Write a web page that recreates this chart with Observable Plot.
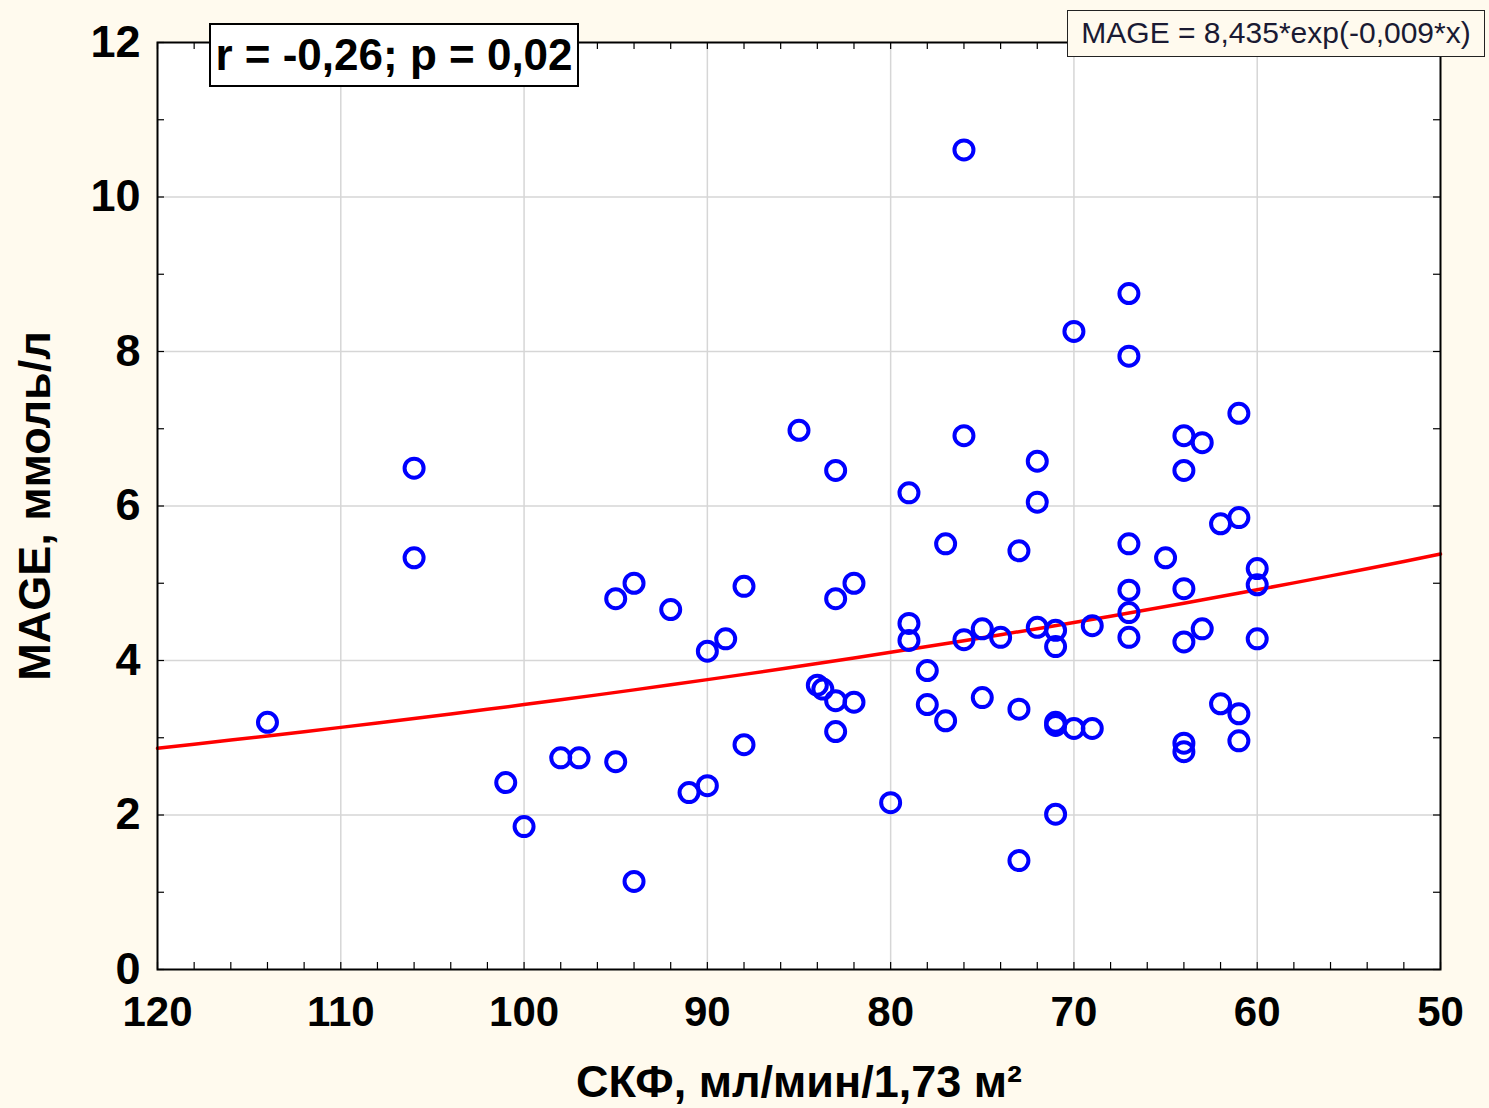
<!DOCTYPE html>
<html>
<head>
<meta charset="utf-8">
<script src="https://cdn.jsdelivr.net/npm/d3@7"></script>
<script src="https://cdn.jsdelivr.net/npm/@observablehq/plot@0.6"></script>
<style>
  html, body { margin: 0; padding: 0; background: #fffaee; }
  #wrap { position: relative; width: 1489px; height: 1108px; font-family: "Liberation Sans", Arial, sans-serif; }
  #stats { position: absolute; left: 209px; top: 23px; width: 370px; height: 64px; box-sizing: border-box;
           border: 2px solid #000; background: #fff; font-weight: bold; font-size: 44px; line-height: 60px;
           text-align: center; color: #000; white-space: nowrap; }
  #formula { position: absolute; left: 1067px; top: 10px; width: 418px; height: 47px; box-sizing: border-box;
             border: 1.5px solid #222; background: #fffaee; font-size: 30px; line-height: 44px;
             text-align: center; color: #1a1a33; white-space: nowrap; }
</style>
</head>
<body>
<div id="wrap"></div>
<script>
// ---- data ----
const gfr = [114,106,106,101,100,98,97,95,95,94,94,92,91,90,90,89,88,88,85,84,83.7,83,82,83,83,83,82,80,79,79,79,78,78,77,77,76,76,76,75,75,74,73,73,73,72,72,72,71,71,71,71,71,70,70,69,69,67,67,67,67,67,67,65,64,64,64,64,64,64,63,63,62,62,61,61,61,61,60,60,60];
const mage = [3.20,6.49,5.33,2.42,1.85,2.74,2.74,2.69,4.80,5.00,1.14,4.66,2.29,4.12,2.38,4.28,4.96,2.91,6.98,3.68,3.63,3.48,3.46,3.08,6.46,4.80,5.00,2.16,6.17,4.48,4.26,3.87,3.43,5.51,3.22,10.61,6.91,4.27,4.41,3.52,4.30,5.42,3.37,1.41,6.58,6.05,4.43,4.39,4.18,3.20,3.16,2.01,8.26,3.12,3.12,4.45,8.75,7.94,5.51,4.91,4.62,4.30,5.33,6.91,6.46,4.93,4.24,2.93,2.82,6.82,4.41,5.77,3.44,7.20,5.85,3.31,2.96,5.19,4.98,4.28];
const xTicks = [120,110,100,90,80,70,60,50];
const yTicks = [0,2,4,6,8,10,12];
const xMinor = d3.range(50, 121, 2);
const yMinor = d3.range(0, 13, 1);
const fitA = 8.435, fitB = -0.009;          // MAGE = 8,435*exp(-0,009*x)
const fitX = d3.range(50, 121, 2);
const statsText = "r = -0,26; p = 0,02";
const formulaText = "MAGE = 8,435*exp(-0,009*x)";
const xLabel = "СКФ, мл/мин/1,73 м²";
const yLabel = "MAGE, ммоль/л";

const points = gfr.map((x, i) => ({x, y: mage[i]}));
const fit = fitX.map(x => ({x, y: fitA * Math.exp(fitB * x)}));

const W = 1489, H = 1108, mL = 157, mR = 49, mT = 42, mB = 139;
const plotW = W - mL - mR, plotH = H - mT - mB;
const font = "Liberation Sans, Arial, sans-serif";

const chart = Plot.plot({
  width: W, height: H,
  marginLeft: mL, marginRight: mR, marginTop: mT, marginBottom: mB,
  style: {background: "transparent", fontFamily: font, color: "#000"},
  x: {domain: [120, 50], ticks: xTicks, label: null},
  y: {domain: [0, 12], ticks: yTicks, label: null},
  marks: [
    Plot.frame({fill: "#ffffff", stroke: "none"}),
    Plot.gridX(xTicks.slice(1, -1), {stroke: "#d6d6d6", strokeOpacity: 1, strokeWidth: 1.5}),
    Plot.gridY(yTicks.slice(1, -1), {stroke: "#d6d6d6", strokeOpacity: 1, strokeWidth: 1.5}),
    // inward ticks
    Plot.tickX(xMinor, {x: d => d, insetTop: plotH - 7, stroke: "#000", strokeWidth: 1.2}),
    Plot.tickX(xMinor, {x: d => d, insetBottom: plotH - 7, stroke: "#000", strokeWidth: 1.2}),
    Plot.tickY(yMinor, {y: d => d, insetRight: plotW - 7, stroke: "#000", strokeWidth: 1.2}),
    Plot.tickY(yMinor, {y: d => d, insetLeft: plotW - 7, stroke: "#000", strokeWidth: 1.2}),
    Plot.line(fit, {x: "x", y: "y", stroke: "#ff0000", strokeWidth: 3.5, curve: "natural"}),
    Plot.dot(points, {x: "x", y: "y", r: 9.5, stroke: "#0000ff", strokeWidth: 4, fill: "none"}),
    Plot.frame({stroke: "#000", strokeWidth: 2}),
    Plot.axisX(xTicks, {anchor: "bottom", tickSize: 0, tickPadding: 27, fontSize: 42, fontWeight: "bold", fontFamily: font, label: null, tickFormat: d => String(d)}),
    Plot.axisY(yTicks, {anchor: "left", tickSize: 0, tickPadding: 17, fontSize: 45, fontWeight: "bold", fontFamily: font, label: null, tickFormat: d => String(d)}),
    Plot.text([xLabel], {frameAnchor: "bottom", lineAnchor: "middle", dy: 113, fontSize: 45, fontWeight: "bold", fontFamily: font, fill: "#000"}),
    Plot.text([yLabel], {frameAnchor: "left", textAnchor: "middle", lineAnchor: "middle", dx: -122, rotate: -90, fontSize: 45, fontWeight: "bold", fontFamily: font, fill: "#000"})
  ]
});

const wrap = document.getElementById("wrap");
wrap.appendChild(chart);
const s = document.createElement("div"); s.id = "stats"; s.textContent = statsText; wrap.appendChild(s);
const f = document.createElement("div"); f.id = "formula"; f.textContent = formulaText; wrap.appendChild(f);
</script>
</body>
</html>
